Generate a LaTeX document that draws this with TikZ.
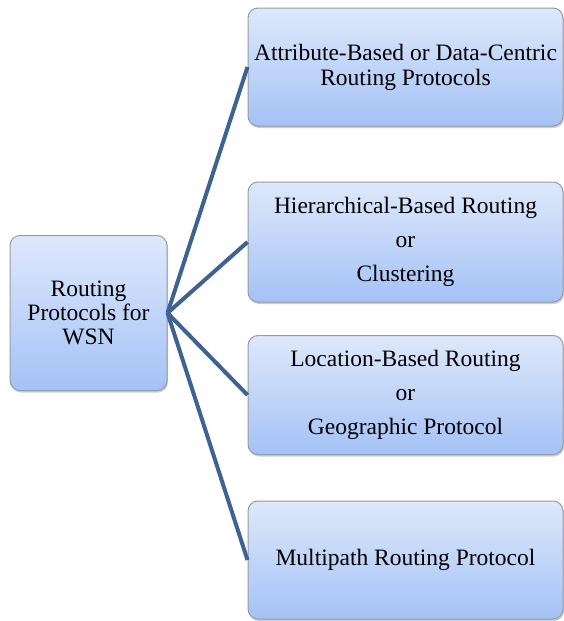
\documentclass[tikz,border=0pt]{standalone}
\usepackage{fontspec}
\setmainfont{Liberation Serif}
\usetikzlibrary{shadows}
\definecolor{boxtop}{RGB}{222,232,251}
\definecolor{boxbot}{RGB}{164,194,246}
\definecolor{boxline}{RGB}{150,156,166}
\definecolor{conn}{RGB}{62,98,145}
\begin{document}
\begin{tikzpicture}[x=1pt,y=-1pt,
  boxstyle/.style={draw=boxline, line width=1pt, rounded corners=10pt,
    top color=boxtop, bottom color=boxbot, align=center,
    font=\fontsize{23.5}{24}\selectfont, inner sep=0pt,
    drop shadow={shadow xshift=1pt, shadow yshift=-2pt, fill=black!40, opacity=0.5}},
  connstyle/.style={draw=conn, line width=4pt}]
\useasboundingbox (0,0) rectangle (564,621);
\node[boxstyle, minimum width=157pt, minimum height=155pt] (root) at (88.5,313)
  {Routing\\Protocols for\\WSN};
\node[boxstyle, minimum width=315pt, minimum height=118pt] (b1) at (405.5,67)
  {Attribute-Based or Data-Centric\\[1pt]Routing Protocols};
\node[boxstyle, minimum width=315pt, minimum height=120pt] (b2) at (405.5,242)
  {Hierarchical-Based Routing\\[10pt]or\\[10pt]Clustering};
\node[boxstyle, minimum width=315pt, minimum height=119pt] (b3) at (405.5,395)
  {Location-Based Routing\\[10pt]or\\[10pt]Geographic Protocol};
\node[boxstyle, minimum width=315pt, minimum height=118pt] (b4) at (405.5,560)
  {Multipath Routing Protocol};
\foreach \b in {b1,b2,b3,b4}
  \draw[connstyle] (root.east) -- (\b.west);
\end{tikzpicture}
\end{document}
